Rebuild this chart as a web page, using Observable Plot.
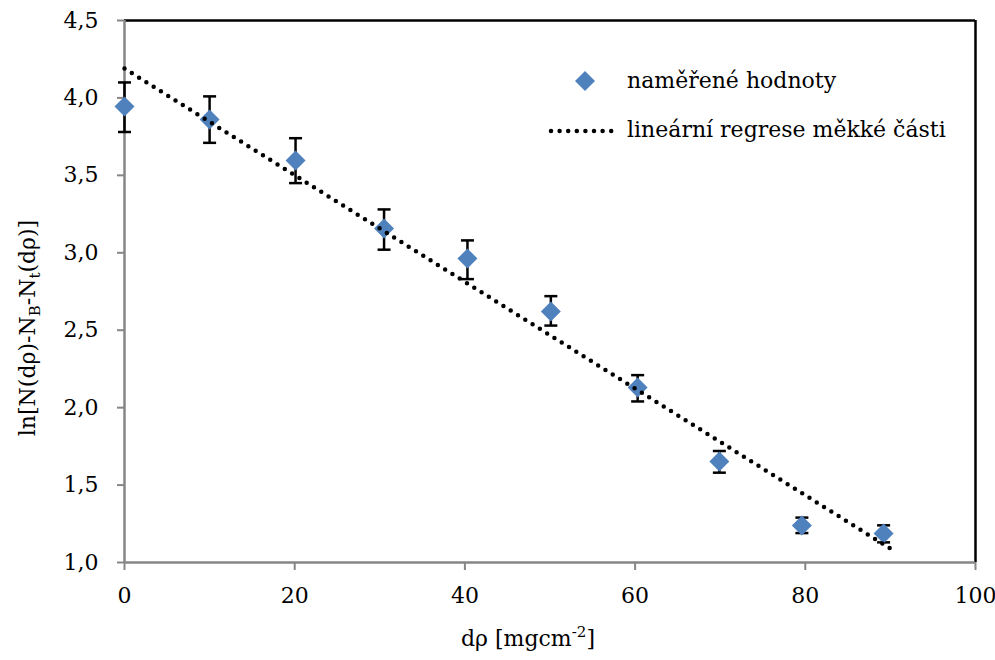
<!DOCTYPE html>
<html>
<head>
<meta charset="utf-8">
<script src="https://cdn.jsdelivr.net/npm/d3@7"></script>
<script src="https://cdn.jsdelivr.net/npm/@observablehq/plot@0.6"></script>
<style>
  html, body { margin: 0; padding: 0; background: #fff; }
  #wrap { position: relative; width: 995px; height: 660px; font-family: "DejaVu Serif", serif; }
  #wrap svg text.tick { font-size: 22px !important; font-family: "DejaVu Serif", serif !important; }
  .leg { position: absolute; font-size: 22px; color: #000; white-space: nowrap; line-height: 1; }
</style>
</head>
<body>
<div id="wrap"></div>
<script>
// ---- data ----
const thickness = [0, 10, 20.1, 30.5, 40.3, 50.1, 60.3, 69.9, 79.6, 89.2];
const lnValue   = [3.945, 3.86, 3.596, 3.157, 2.963, 2.621, 2.13, 1.652, 1.239, 1.187];
const errLow    = [3.78, 3.71, 3.45, 3.02, 2.83, 2.53, 2.04, 1.58, 1.19, 1.13];
const errHigh   = [4.10, 4.01, 3.74, 3.28, 3.08, 2.72, 2.21, 1.72, 1.29, 1.24];
const fitX = [0, 90];
const fitY = [4.19, 1.09];
const xTicks = [0, 20, 40, 60, 80, 100];
const yTicks = [1.0, 1.5, 2.0, 2.5, 3.0, 3.5, 4.0, 4.5];
const legendLabels = ["naměřené hodnoty", "lineární regrese měkké části"];

const points = thickness.map((x, i) => ({x, y: lnValue[i], lo: errLow[i], hi: errHigh[i]}));
const fit = fitX.map((x, i) => ({x, y: fitY[i]}));

const capSymbol = { draw(ctx, size) { ctx.moveTo(-6.5, 0); ctx.lineTo(6.5, 0); } };
const fmt = d => d.toFixed(1).replace(".", ",");

const axisGray = "#868686";
const plot = Plot.plot({
  width: 995, height: 660,
  marginLeft: 124, marginRight: 20, marginTop: 20, marginBottom: 98,
  style: { fontFamily: "DejaVu Serif, serif", fontSize: "22px", color: "#000", background: "#fff" },
  x: { domain: [0, 100], ticks: xTicks, tickFormat: d => String(d), label: null },
  y: { domain: [1, 4.5], ticks: yTicks, tickFormat: fmt, label: null },
  marks: [
    Plot.ruleY([4.5], { stroke: "#000", strokeWidth: 2.5 }),
    Plot.ruleX([100], { stroke: "#000", strokeWidth: 2.5 }),
    Plot.axisX({ ticks: xTicks, tickFormat: d => String(d), tickSize: 8, stroke: axisGray, strokeWidth: 2, tickPadding: 17, fill: "#000", strokeOpacity: 1 }),
    Plot.axisY({ ticks: yTicks, tickFormat: fmt, tickSize: 7, stroke: axisGray, strokeWidth: 2, tickPadding: 19, fill: "#000", strokeOpacity: 1 }),
    Plot.ruleX([0], { stroke: axisGray, strokeWidth: 2.5 }),
    Plot.ruleY([1], { stroke: axisGray, strokeWidth: 2.5 }),
    Plot.ruleX(points, { x: "x", y1: "lo", y2: "hi", stroke: "#000", strokeWidth: 2.5 }),
    Plot.dot(points, { x: "x", y: "lo", symbol: capSymbol, stroke: "#000", strokeWidth: 2.5, r: 5 }),
    Plot.dot(points, { x: "x", y: "hi", symbol: capSymbol, stroke: "#000", strokeWidth: 2.5, r: 5 }),
    Plot.dot(points, { x: "x", y: "y", symbol: "diamond2", r: 9, fill: "#4F81BD", stroke: "none" }),
    Plot.line(fit, { x: "x", y: "y", stroke: "#000", strokeWidth: 4.5, strokeDasharray: "0 8.6", strokeLinecap: "round" })
  ]
});

const wrap = document.getElementById("wrap");
wrap.appendChild(plot);

const svg = d3.select(plot);
svg.selectAll("text").classed("tick", true);

// axis titles with sub/superscripts
const yl = svg.append("text")
  .attr("transform", "translate(35,328) rotate(-90)")
  .attr("text-anchor", "middle")
  .style("font-family", "'DejaVu Serif', serif")
  .style("font-size", "22px")
  .attr("fill", "#000");
yl.append("tspan").text("ln[N(dρ)-N");
yl.append("tspan").style("font-size", "15px").attr("dy", 5).text("B");
yl.append("tspan").attr("dy", -5).text("-N");
yl.append("tspan").style("font-size", "15px").attr("dy", 5).text("t");
yl.append("tspan").attr("dy", -5).text("(dρ)]");

const xl = svg.append("text")
  .attr("x", 528).attr("y", 646)
  .attr("text-anchor", "middle")
  .style("font-family", "'DejaVu Serif', serif")
  .style("font-size", "22px")
  .attr("fill", "#000");
xl.append("tspan").text("dρ [mgcm");
xl.append("tspan").style("font-size", "15px").attr("dy", -9).text("-2");
xl.append("tspan").attr("dy", 9).text("]");

// legend
const l1 = document.createElement("div");
l1.className = "leg";
l1.style.left = "574px"; l1.style.top = "69px";
l1.innerHTML = `<svg width="22" height="22" style="vertical-align:middle"><path d="M11,1 L21,11 L11,21 L1,11 Z" fill="#4F81BD"/></svg><span style="margin-left:31px;vertical-align:middle">${legendLabels[0]}</span>`;
wrap.appendChild(l1);

const l2 = document.createElement("div");
l2.className = "leg";
l2.style.left = "548px"; l2.style.top = "118px";
l2.innerHTML = `<svg width="70" height="22" style="vertical-align:middle"><line x1="3" y1="12" x2="64" y2="12" stroke="#000" stroke-width="4.5" stroke-dasharray="0 8.6" stroke-linecap="round"/></svg><span style="margin-left:9px;vertical-align:middle">${legendLabels[1]}</span>`;
wrap.appendChild(l2);
</script>
</body>
</html>
